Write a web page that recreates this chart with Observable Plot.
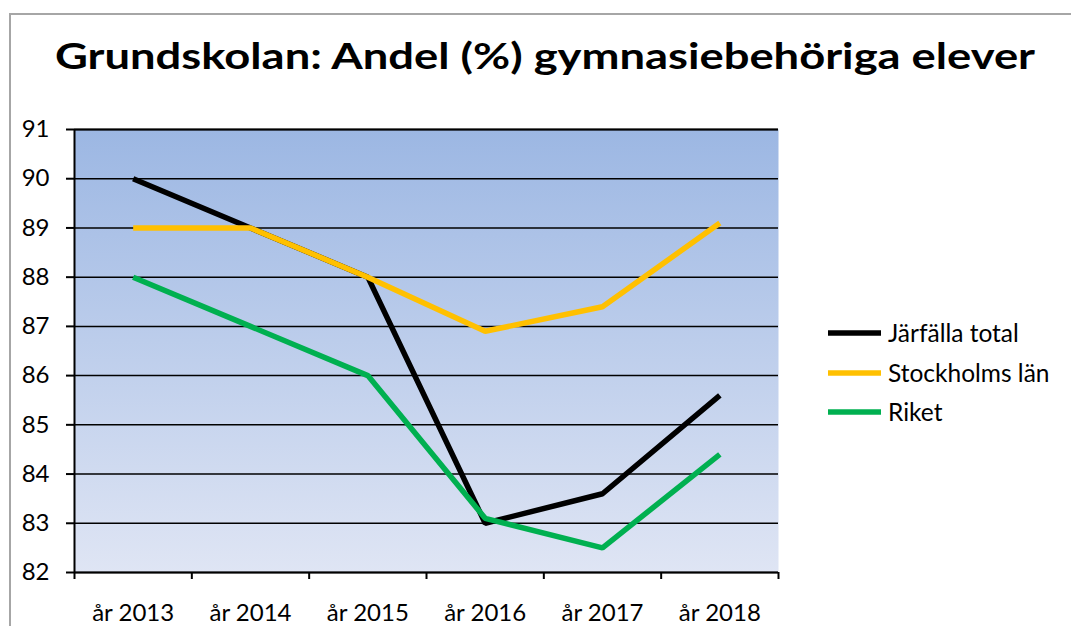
<!DOCTYPE html>
<html>
<head>
<meta charset="utf-8">
<script src="https://cdn.jsdelivr.net/npm/d3@7"></script>
<script src="https://cdn.jsdelivr.net/npm/@observablehq/plot@0.6"></script>
<style>
  html, body { margin: 0; padding: 0; background: #fff; overflow: hidden; }
  #wrap { position: relative; width: 1071px; height: 626px; overflow: hidden; font-family: Lato, "Noto Sans", sans-serif; }
  #border { position: absolute; left: 9px; top: 13px; width: 1200px; height: 800px; border-left: 2px solid #a6a6a6; border-top: 2px solid #a6a6a6; }
  #chart { position: absolute; left: 0; top: 0; }
  #overlay { position: absolute; left: 0; top: 0; pointer-events: none; }
</style>
</head>
<body>
<div id="wrap">
  <div id="border"></div>
  <div id="chart"></div>
  <svg id="overlay" width="1071" height="626"></svg>
</div>
<script>
const title = "Grundskolan: Andel (%) gymnasiebehöriga elever";
const years = ["år 2013", "år 2014", "år 2015", "år 2016", "år 2017", "år 2018"];
const seriesNames = ["Järfälla total", "Stockholms län", "Riket"];
const seriesColors = ["#000000", "#ffc000", "#00b050"];
const jarfalla = [90, 89, 88, 83, 83.6, 85.6];
const stockholm = [89, 89, 88, 86.9, 87.4, 89.1];
const riket = [88, 87, 86, 83.1, 82.5, 84.4];
const yTicks = [82, 83, 84, 85, 86, 87, 88, 89, 90, 91];

const seriesValues = [jarfalla, stockholm, riket];
const data = [];
seriesNames.forEach((name, s) => {
  seriesValues[s].forEach((v, i) => data.push({series: name, idx: i + 0.5, year: years[i], value: v}));
});

const centers = years.map((_, i) => i + 0.5);
const bounds = d3.range(years.length + 1);

const defs = () => {
  const g = d3.create("svg:defs");
  const lg = g.append("linearGradient").attr("id", "bgGrad").attr("x1", 0).attr("y1", 0).attr("x2", 0).attr("y2", 1);
  lg.append("stop").attr("offset", "0%").attr("stop-color", "#9cb7e3");
  lg.append("stop").attr("offset", "100%").attr("stop-color", "#dfe5f4");
  return g.node();
};

const FS = 24;
const chart = Plot.plot({
  width: 1071,
  height: 626,
  marginLeft: 74,
  marginRight: 293,
  marginTop: 129,
  marginBottom: 54,
  style: {fontFamily: "Lato, 'Noto Sans', sans-serif", fontSize: FS + "px", color: "#000", background: "transparent"},
  x: {type: "linear", domain: [0, years.length], axis: null},
  y: {domain: [82, 91], axis: null},
  color: {domain: seriesNames, range: seriesColors},
  marks: [
    defs,
    Plot.frame({fill: "url(#bgGrad)", stroke: null}),
    Plot.ruleY(yTicks, {stroke: "#000", strokeWidth: 1.5}),
    Plot.ruleY([91], {stroke: "#000", strokeWidth: 2}),
    Plot.axisY(yTicks, {anchor: "left", label: null, tickSize: 8, tickPadding: 17, strokeWidth: 2, fill: "#000", fontSize: FS}),
    Plot.axisX(bounds, {anchor: "bottom", label: null, tickSize: 7, tickFormat: () => "", strokeWidth: 2}),
    Plot.axisX(centers, {anchor: "bottom", label: null, tickSize: 0, tickPadding: 31, tickFormat: d => years[Math.floor(d)], fill: "#000", fontSize: FS}),
    Plot.ruleX([0], {stroke: "#000", strokeWidth: 2}),
    Plot.ruleY([82], {stroke: "#000", strokeWidth: 2}),
    Plot.line(data, {x: "idx", y: "value", z: "series", stroke: "series", strokeWidth: 5.5, strokeLinejoin: "miter", strokeLinecap: "butt"})
  ]
});
document.getElementById("chart").appendChild(chart);

// Title and legend
const ov = d3.select("#overlay");
ov.append("text")
  .attr("x", 545).attr("y", 69)
  .attr("text-anchor", "middle")
  .attr("font-family", "Lato, 'Noto Sans', sans-serif")
  .attr("font-weight", 700)
  .attr("font-size", 37)
  .attr("textLength", 980)
  .attr("lengthAdjust", "spacingAndGlyphs")
  .attr("fill", "#000")
  .text(title);

const legendY = [333, 373, 412];
seriesNames.forEach((name, i) => {
  ov.append("line")
    .attr("x1", 828).attr("x2", 881)
    .attr("y1", legendY[i]).attr("y2", legendY[i])
    .attr("stroke", seriesColors[i]).attr("stroke-width", 5.5);
  ov.append("text")
    .attr("x", 888).attr("y", legendY[i])
    .attr("dy", "0.36em")
    .attr("font-family", "Lato, 'Noto Sans', sans-serif")
    .attr("font-size", FS + 0.5)
    .attr("fill", "#000")
    .text(name);
});
</script>
</body>
</html>
